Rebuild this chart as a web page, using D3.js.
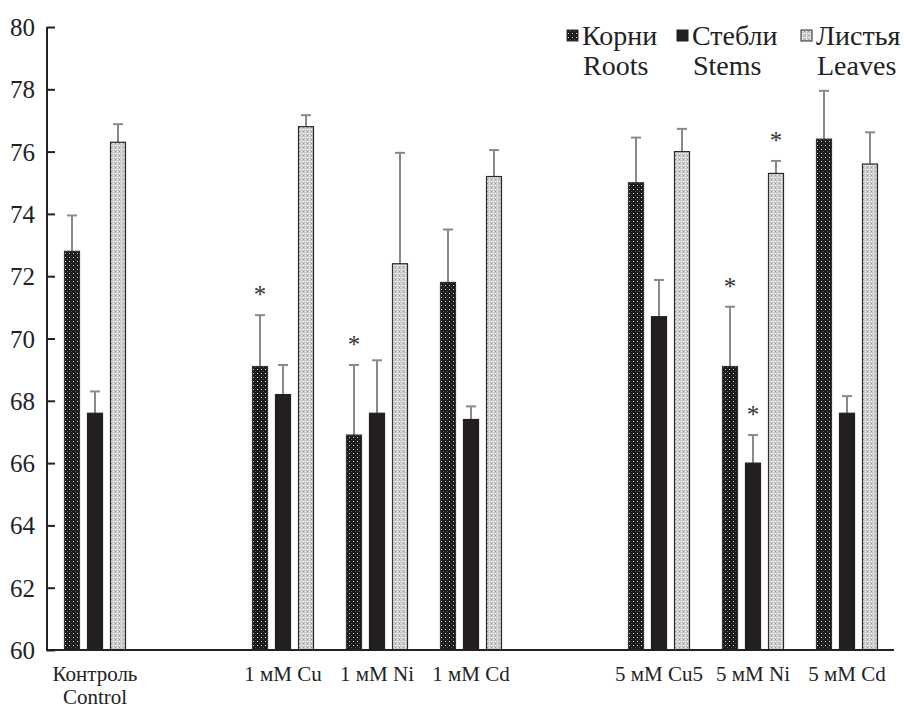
<!DOCTYPE html>
<html>
<head>
<meta charset="utf-8">
<script src="https://cdn.jsdelivr.net/npm/d3@7"></script>
<style>
  body { margin: 0; background: #fff; }
  svg { font-family: "Liberation Serif", "DejaVu Serif", serif; }
</style>
</head>
<body>
<div id="chart"></div>
<script>
// groups (blank slots keep the gaps between blocks)
var groups = ["Контроль", "gap1", "1 мМ Cu", "1 мМ Ni", "1 мМ Cd", "gap2", "5 мМ Cu5", "5 мМ Ni", "5 мМ Cd"];
var labels = ["Контроль", "1 мМ Cu", "1 мМ Ni", "1 мМ Cd", "5 мМ Cu5", "5 мМ Ni", "5 мМ Cd"];
var series = ["roots", "stems", "leaves"];
var seriesRu = ["Корни", "Стебли", "Листья"];
var seriesEn = ["Roots", "Stems", "Leaves"];

var roots  = [72.8, 69.1, 66.9, 71.8, 75.0, 69.1, 76.4];
var stems  = [67.6, 68.2, 67.6, 67.4, 70.7, 66.0, 67.6];
var leaves = [76.3, 76.8, 72.4, 75.2, 76.0, 75.3, 75.6];

var rootsErr  = [73.95, 70.75, 69.15, 73.5, 76.45, 71.02, 77.95];
var stemsErr  = [68.3, 69.15, 69.3, 67.82, 71.88, 66.9, 68.15];
var leavesErr = [76.88, 77.17, 75.96, 76.05, 76.73, 75.7, 76.62];

// significance marks
var rootsStar  = [false, true, true, false, false, true, false];
var stemsStar  = [false, false, false, false, false, true, false];
var leavesStar = [false, false, false, false, false, true, false];

var yTicks = [60, 62, 64, 66, 68, 70, 72, 74, 76, 78, 80];

var W = 904, H = 709;
var pLeft = 48, pRight = 894, pTop = 27, pBottom = 650;

var svg = d3.select("#chart").append("svg").attr("width", W).attr("height", H);

var defs = svg.append("defs");
var pr = defs.append("pattern").attr("id", "pRoots").attr("patternUnits", "userSpaceOnUse")
  .attr("width", 4).attr("height", 4);
pr.append("rect").attr("width", 4).attr("height", 4).attr("fill", "#1c1a1b");
pr.append("rect").attr("x", 1).attr("y", 1).attr("width", 1).attr("height", 1).attr("fill", "#d8d8d8");
pr.append("rect").attr("x", 3).attr("y", 3).attr("width", 1).attr("height", 1).attr("fill", "#555");

var pl = defs.append("pattern").attr("id", "pLeaves").attr("patternUnits", "userSpaceOnUse")
  .attr("width", 4).attr("height", 4);
pl.append("rect").attr("width", 4).attr("height", 4).attr("fill", "#c8c8c8");
pl.append("rect").attr("x", 1).attr("y", 1).attr("width", 1).attr("height", 1).attr("fill", "#fff");
pl.append("rect").attr("x", 3).attr("y", 1).attr("width", 1).attr("height", 1).attr("fill", "#f0f0f0");
pl.append("rect").attr("x", 1).attr("y", 3).attr("width", 1).attr("height", 1).attr("fill", "#f0f0f0");
pl.append("rect").attr("x", 3).attr("y", 3).attr("width", 1).attr("height", 1).attr("fill", "#999");

var fills = { roots: "url(#pRoots)", stems: "#231f20", leaves: "url(#pLeaves)" };
var strokes = { roots: "#333", stems: "#231f20", leaves: "#2a2a2a" };

var x = d3.scaleBand().domain(groups).range([pLeft, pRight]).padding(0);
var xs = d3.scalePoint().domain(series).range([-23, 23]);
var y = d3.scaleLinear().domain([60, 80]).range([pBottom, pTop]);

var barW = 15;

var data = [];
labels.forEach(function(g, i) {
  data.push({ g: g, s: "roots", v: roots[i], e: rootsErr[i], star: rootsStar[i] });
  data.push({ g: g, s: "stems", v: stems[i], e: stemsErr[i], star: stemsStar[i] });
  data.push({ g: g, s: "leaves", v: leaves[i], e: leavesErr[i], star: leavesStar[i] });
});
function cx(d) { return x(d.g) + x.bandwidth() / 2 + xs(d.s); }

// error bars
var eb = svg.append("g").attr("stroke", "#8a8a8a").attr("stroke-width", 2);
eb.selectAll("line.v").data(data).enter().append("line")
  .attr("x1", cx).attr("x2", cx)
  .attr("y1", function(d) { return y(d.v); })
  .attr("y2", function(d) { return y(d.e); });
eb.selectAll("line.c").data(data).enter().append("line")
  .attr("x1", function(d) { return cx(d) - 5; }).attr("x2", function(d) { return cx(d) + 5; })
  .attr("y1", function(d) { return y(d.e); })
  .attr("y2", function(d) { return y(d.e); });

// bars
svg.append("g").selectAll("rect").data(data).enter().append("rect")
  .attr("x", function(d) { return cx(d) - barW / 2; })
  .attr("y", function(d) { return y(d.v); })
  .attr("width", barW)
  .attr("height", function(d) { return y(60) - y(d.v); })
  .attr("fill", function(d) { return fills[d.s]; })
  .attr("stroke", function(d) { return strokes[d.s]; })
  .attr("stroke-width", 1.2);

// stars
svg.append("g").selectAll("text").data(data.filter(function(d) { return d.star; })).enter().append("text")
  .attr("x", cx)
  .attr("y", function(d) { return y(d.e) - 12; })
  .attr("text-anchor", "middle")
  .attr("font-size", 25)
  .attr("fill", "#333")
  .text("*");

// y axis
var yAxis = d3.axisLeft(y).tickValues(yTicks).tickSize(-8).tickPadding(12).tickFormat(d3.format("d"));
var ga = svg.append("g").attr("transform", "translate(" + (pLeft - 1) + ",0)").call(yAxis);
ga.select(".domain").attr("stroke", "#222").attr("stroke-width", 2).attr("d", "M0," + pTop + "V" + pBottom);
ga.selectAll(".tick line").attr("stroke", "#222").attr("stroke-width", 2);
ga.selectAll(".tick text").attr("font-size", 25).attr("fill", "#222")
  .attr("font-family", "Liberation Serif").attr("dy", "0.34em");

// x axis line
svg.append("line").attr("x1", pLeft - 2).attr("x2", pRight).attr("y1", pBottom).attr("y2", pBottom)
  .attr("stroke", "#222").attr("stroke-width", 2);

// x labels
svg.append("g").selectAll("text").data(labels).enter().append("text")
  .attr("x", function(d) { return x(d) + x.bandwidth() / 2; })
  .attr("y", 681)
  .attr("text-anchor", "middle")
  .attr("font-size", 21)
  .attr("fill", "#222")
  .text(function(d) { return d; });
svg.append("text").attr("x", x("Контроль") + x.bandwidth() / 2).attr("y", 704)
  .attr("text-anchor", "middle").attr("font-size", 21).attr("fill", "#222").text("Control");

// legend
var legX = [567, 677, 801];
var lg = svg.append("g").selectAll("g").data(series).enter().append("g")
  .attr("transform", function(d, i) { return "translate(" + legX[i] + ",0)"; });
lg.append("rect").attr("x", 0).attr("y", 30).attr("width", 11).attr("height", 11)
  .attr("fill", function(d) { return fills[d]; })
  .attr("stroke", function(d) { return strokes[d]; }).attr("stroke-width", 1);
lg.append("text").attr("x", 15).attr("y", 45).attr("font-size", 28).attr("fill", "#222")
  .text(function(d, i) { return seriesRu[i]; });
lg.append("text").attr("x", 16).attr("y", 75).attr("font-size", 28).attr("fill", "#222")
  .text(function(d, i) { return seriesEn[i]; });
</script>
</body>
</html>
